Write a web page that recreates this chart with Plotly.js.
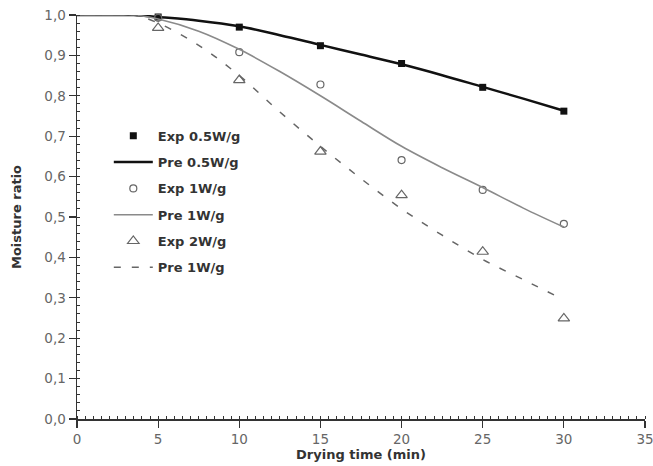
<!DOCTYPE html>
<html>
<head>
<meta charset="utf-8">
<script src="https://cdn.plot.ly/plotly-3.0.1.min.js"></script>
<style>html,body{margin:0;padding:0;background:#fff;}#chart{width:653px;height:466px;}</style>
</head>
<body>
<div id="chart"></div>
<script>
// Experimental points
const tExp = [5, 10, 15, 20, 25, 30];
const exp05 = [0.995, 0.970, 0.924, 0.880, 0.821, 0.762];
const exp1  = [0.993, 0.908, 0.828, 0.641, 0.567, 0.483];
const exp2  = [0.968, 0.839, 0.662, 0.554, 0.414, 0.249];
// Predicted curves
const tPre = [0, 2.5, 3.5, 5, 7.5, 10, 12.5, 15, 17.5, 20, 22.5, 25, 27.5, 30];
const pre05 = [1.0, 1.0, 1.0, 0.995, 0.986, 0.972, 0.950, 0.926, 0.902, 0.878, 0.851, 0.822, 0.793, 0.763];
const pre1  = [1.0, 1.0, 1.0, 0.99, 0.96, 0.915, 0.86, 0.80, 0.737, 0.675, 0.622, 0.573, 0.522, 0.475];
const pre2  = [1.0, 1.0, 1.0, 0.98, 0.925, 0.85, 0.76, 0.675, 0.595, 0.52, 0.455, 0.395, 0.345, 0.295];
const names = ["Exp 0.5W/g", "Pre 0.5W/g", "Exp 1W/g", "Pre 1W/g", "Exp 2W/g", "Pre 1W/g"];

const traces = [
  {x: tExp, y: exp05, name: names[0], mode: "markers", legendgroup: "a",
   marker: {symbol: "square", size: 7, color: "#111"}},
  {x: tPre, y: pre05, name: names[1], mode: "lines", legendgroup: "b",
   line: {color: "#111", width: 2.5, shape: "spline"}},
  {x: tExp, y: exp1, name: names[2], mode: "markers", legendgroup: "c",
   marker: {symbol: "circle-open", size: 7, color: "#666", line: {width: 1.2}}},
  {x: tPre, y: pre1, name: names[3], mode: "lines", legendgroup: "d",
   line: {color: "#8a8a8a", width: 1.6, shape: "spline"}},
  {x: tExp, y: exp2, name: names[4], mode: "markers", legendgroup: "e",
   marker: {symbol: "triangle-up-open", size: 10, color: "#666", line: {width: 1.2}}},
  {x: tPre, y: pre2, name: names[5], mode: "lines", legendgroup: "f",
   line: {color: "#666", width: 1.5, dash: "7px,11px", shape: "spline"}}
];
traces.forEach(t => t.cliponaxis = false);

const FAM = "DejaVu Sans, sans-serif";
const axisFont = {family: FAM, size: 13.5, color: "#666"};
const titleFont = {family: FAM, size: 13, color: "#333", weight: "bold"};
const layout = {
  width: 653, height: 466,
  margin: {l: 77, r: 8, t: 15, b: 47},
  paper_bgcolor: "#fff", plot_bgcolor: "#fff",
  separators: ",.",
  showlegend: true,
  legend: {x: 0.056, y: 0.738, xanchor: "left", yanchor: "top", itemwidth: 39,
    bgcolor: "rgba(0,0,0,0)", traceorder: "grouped", tracegroupgap: 6.4,
    font: {family: FAM, size: 13, color: "#333", weight: "bold"}},
  xaxis: {range: [0, 35], dtick: 5, tick0: 0, showgrid: false, zeroline: false,
    showline: true, linecolor: "#333", linewidth: 1.5,
    ticks: "outside", ticklen: 7, tickwidth: 1.2, tickcolor: "#333",
    tickfont: axisFont, ticklabeloverflow: "allow",
    minor: {ticks: "inside", dtick: 0.5, ticklen: 3, tickcolor: "#333", tickwidth: 1},
    title: {text: "Drying time (min)", standoff: 4, font: titleFont}},
  yaxis: {range: [0, 1.0], dtick: 0.1, tick0: 0, tickformat: ".1f", showgrid: false, zeroline: false,
    showline: true, linecolor: "#333", linewidth: 1.5,
    ticks: "outside", ticklen: 7, tickwidth: 1.2, tickcolor: "#333",
    tickfont: axisFont, ticklabeloverflow: "allow",
    minor: {ticks: "inside", dtick: 0.02, ticklen: 3, tickcolor: "#333", tickwidth: 1},
    title: {text: "Moisture ratio", standoff: 20, font: titleFont}}
};
Plotly.newPlot("chart", traces, layout, {displayModeBar: false, staticPlot: true});
</script>
</body>
</html>
